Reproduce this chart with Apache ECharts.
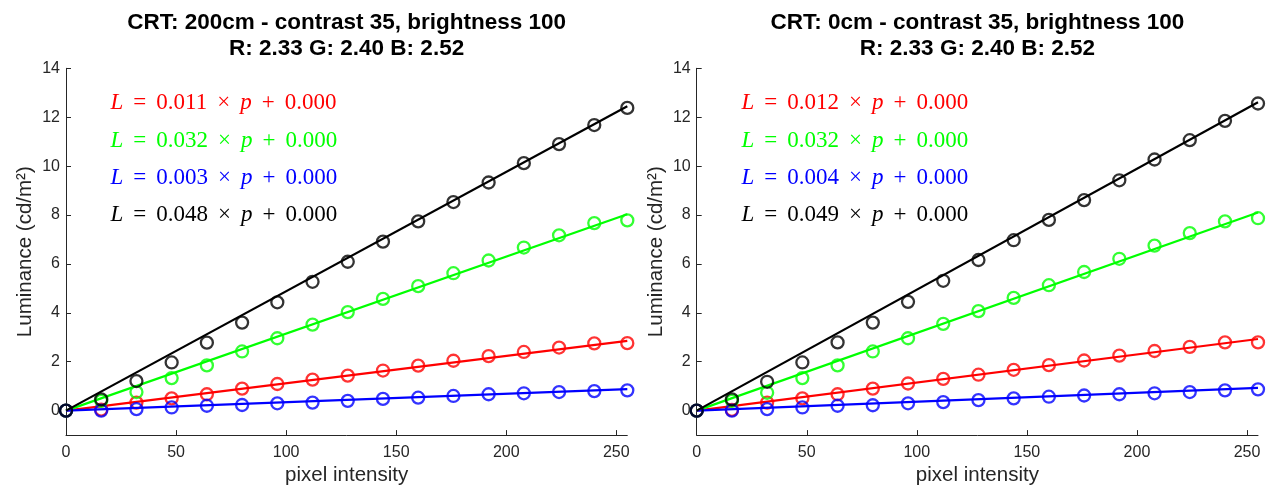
<!DOCTYPE html>
<html>
<head>
<meta charset="utf-8">
<script src="https://cdn.jsdelivr.net/npm/echarts@6/dist/echarts.min.js"></script>
<style>
html,body{margin:0;padding:0;background:#fff;}
#chart{width:1267px;height:491px;}
</style>
</head>
<body>
<div id="chart"></div>
<script>
// ---------- data ----------
const xPix = [0,16,32,48,64,80,96,112,128,144,160,176,192,208,224,240,255];
const xTicks = [0,50,100,150,200,250];
const yTicks = [0,2,4,6,8,10,12,14];

const titlesLeft = ['CRT: 200cm - contrast 35, brightness 100', 'R: 2.33 G: 2.40 B: 2.52'];
const titlesRight = ['CRT: 0cm - contrast 35, brightness 100', 'R: 2.33 G: 2.40 B: 2.52'];

// left plot (200cm) measured luminance
const leftR = [0,0.04,0.33,0.50,0.67,0.90,1.09,1.27,1.43,1.64,1.84,2.04,2.23,2.40,2.58,2.75,2.76];
const leftG = [0,0.40,0.76,1.33,1.85,2.42,2.96,3.52,4.03,4.57,5.09,5.62,6.14,6.67,7.17,7.67,7.78];
const leftB = [0,0.00,0.06,0.13,0.20,0.23,0.30,0.33,0.40,0.48,0.53,0.60,0.67,0.71,0.76,0.80,0.83];
const leftK = [0,0.46,1.21,1.97,2.78,3.60,4.43,5.27,6.09,6.91,7.74,8.53,9.33,10.12,10.90,11.68,12.38];
// left fit line end values at p = 255 (R, G, B, K)
const leftFitEnd = [2.85,8.03,0.88,12.45];
const leftSlopes = ['0.011','0.032','0.003','0.048'];

// right plot (0cm) measured luminance
const rightR = [0,0.03,0.33,0.50,0.67,0.90,1.11,1.30,1.47,1.67,1.86,2.05,2.25,2.44,2.61,2.79,2.79];
const rightG = [0,0.40,0.73,1.33,1.85,2.42,2.96,3.55,4.07,4.61,5.13,5.67,6.21,6.75,7.26,7.74,7.87];
const rightB = [0,0.00,0.06,0.13,0.20,0.22,0.30,0.35,0.43,0.50,0.57,0.62,0.67,0.71,0.76,0.83,0.87];
const rightK = [0,0.46,1.18,1.97,2.79,3.60,4.45,5.31,6.16,6.97,7.80,8.61,9.42,10.27,11.06,11.85,12.56];
const rightFitEnd = [2.93,8.10,0.93,12.61];
const rightSlopes = ['0.012','0.032','0.004','0.049'];

const intercepts = ['0.000','0.000','0.000','0.000'];
const colors = ['#ff0000','#00ff00','#0000ff','#000000'];

// ---------- layout ----------
const AX = '#262626';
const SANS = 'Liberation Sans, Arial, Helvetica, sans-serif';
const SERIF = 'Liberation Serif, Times New Roman, serif';
const grids = [
  {left:66, top:68.3, width:561.3, height:371.3},
  {left:696.7, top:68.3, width:561.3, height:371.3}
];

function xAxisDef(i){
  return {
    type:'value', gridIndex:i, min:0, max:255,
    name:'pixel intensity', nameLocation:'middle', nameGap:29,
    nameTextStyle:{fontFamily:SANS, fontSize:20.5, color:AX},
    axisLine:{show:true, onZero:false, lineStyle:{color:AX, width:1}},
    axisTick:{show:true, inside:true, length:5, customValues:xTicks, lineStyle:{color:AX}},
    axisLabel:{customValues:xTicks, margin:9, fontFamily:SANS, fontSize:16, color:AX},
    splitLine:{show:false}
  };
}
function yAxisDef(i){
  return {
    type:'value', gridIndex:i, min:-1, max:14,
    name:'Luminance (cd/m²)', nameLocation:'middle', nameGap:30, nameRotate:90,
    nameTextStyle:{fontFamily:SANS, fontSize:20.5, color:AX},
    axisLine:{show:true, lineStyle:{color:AX, width:1}},
    axisTick:{show:true, inside:true, length:5, customValues:yTicks, lineStyle:{color:AX}},
    axisLabel:{customValues:yTicks, margin:6, fontFamily:SANS, fontSize:16, color:AX},
    splitLine:{show:false}
  };
}

const series = [];
function addPlot(i, arrs, ends){
  arrs.forEach((arr, c) => {
    series.push({
      type:'scatter', xAxisIndex:i, yAxisIndex:i,
      data: xPix.map((x, k) => [x, arr[k]]),
      symbol:'circle', symbolSize:12,
      itemStyle:{color:'rgba(0,0,0,0)', borderColor:colors[c], borderWidth:2.3},
      silent:true, z:2+c
    });
    series.push({
      type:'line', xAxisIndex:i, yAxisIndex:i,
      data: [[xPix[0], 0], [xPix[xPix.length-1], ends[c]]],
      showSymbol:false, symbol:'none',
      lineStyle:{color:colors[c], width:2.2},
      silent:true, z:2+c
    });
  });
}
addPlot(0, [leftR,leftG,leftB,leftK], leftFitEnd);
addPlot(1, [rightR,rightG,rightB,rightK], rightFitEnd);

const graphic = [];
function addTitle(cx, lines){
  graphic.push({
    type:'text', x:cx, y:35.8,
    style:{text:lines.join('\n'), fontFamily:SANS, fontWeight:'bold', fontSize:22.5,
      lineHeight:26, fill:'#000', textAlign:'center', textVerticalAlign:'middle'}
  });
}
addTitle(346.6, titlesLeft);
addTitle(977.4, titlesRight);

function addEquations(x0, slopes){
  slopes.forEach((s, c) => {
    const col = colors[c];
    graphic.push({
      type:'text', x:x0, y:103.3 + c*37.2,
      style:{
        text:'{i|L}{o|=}{n|' + s + '}{o|×}{i|p}{o|+}{n|' + intercepts[c] + '}',
        fill:col,
        textAlign:'left', textVerticalAlign:'middle',
        rich:{
          i:{fontFamily:SERIF, fontStyle:'italic', fontSize:23, fill:col, color:col},
          n:{fontFamily:SERIF, fontSize:23, fill:col, color:col},
          o:{fontFamily:SERIF, fontSize:23, fill:col, color:col, width:33, align:'center'}
        }
      }
    });
  });
}
addEquations(110.5, leftSlopes);
addEquations(741.5, rightSlopes);

const chart = echarts.init(document.getElementById('chart'), null, {renderer:'canvas'});
chart.setOption({
  backgroundColor:'#fff',
  animation:false,
  grid: grids,
  xAxis:[xAxisDef(0), xAxisDef(1)],
  yAxis:[yAxisDef(0), yAxisDef(1)],
  series: series,
  graphic: graphic
});
</script>
</body>
</html>
